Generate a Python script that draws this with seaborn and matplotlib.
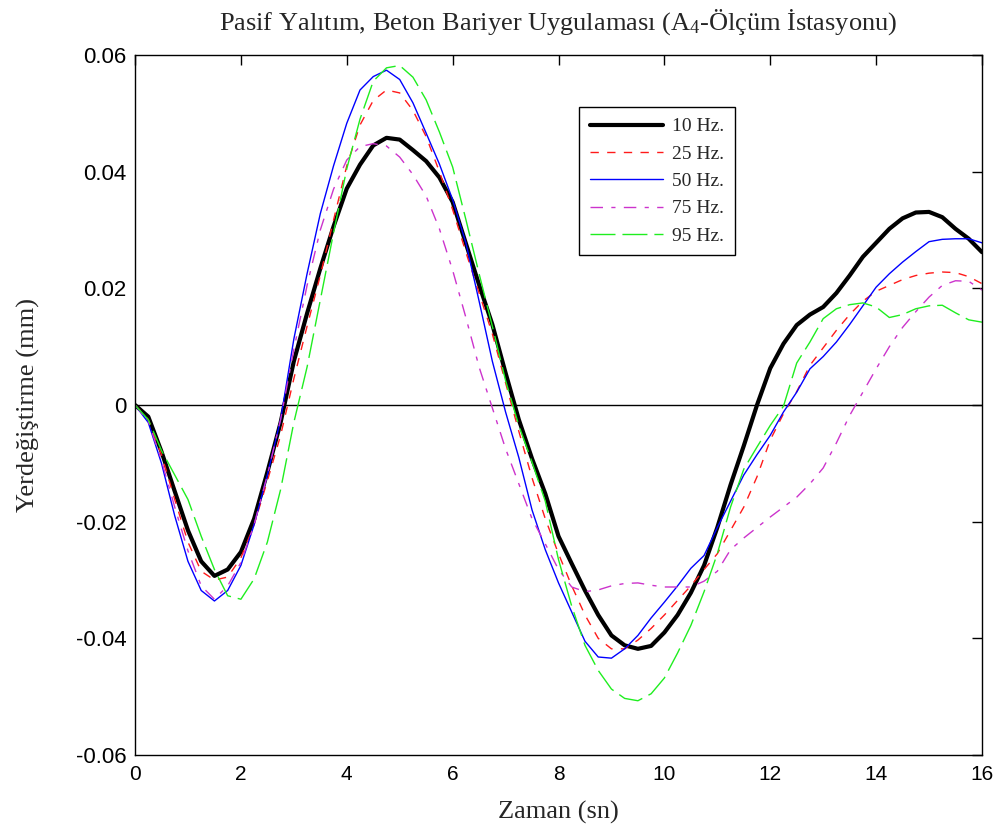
import numpy as np
import pandas as pd
import matplotlib
matplotlib.use("Agg")
import matplotlib.pyplot as plt
import seaborn as sns

# ---- data ----
t = np.arange(0, 16.01, 0.25)

hz10 = [0, -0.002, -0.008, -0.0148, -0.0215, -0.0268, -0.0293, -0.0282, -0.0252, -0.0195,
        -0.0115, -0.003, 0.0075, 0.0157, 0.0234, 0.0306, 0.0371, 0.0412, 0.0445, 0.0458,
        0.0455, 0.0437, 0.0418, 0.039, 0.0348, 0.0277, 0.0206, 0.0138, 0.0055, -0.0025,
        -0.0092, -0.0152, -0.0225, -0.0272, -0.0318, -0.036, -0.0395, -0.0412, -0.0418, -0.0413,
        -0.039, -0.036, -0.0322, -0.0275, -0.021, -0.0137, -0.007, 0.0, 0.0063, 0.0105,
        0.0137, 0.0155, 0.0168, 0.0192, 0.0222, 0.0254, 0.0278, 0.0302, 0.032, 0.033,
        0.0331, 0.0322, 0.0302, 0.0285, 0.0262]

hz25 = [0, -0.0025, -0.0085, -0.0162, -0.0235, -0.0285, -0.0300, -0.0295, -0.0262, -0.0205,
        -0.013, -0.0052, 0.0045, 0.0135, 0.0222, 0.0317, 0.041, 0.048, 0.0522, 0.054,
        0.0535, 0.0505, 0.046, 0.040, 0.0335, 0.0262, 0.0192, 0.0122, 0.0038, -0.0045,
        -0.0125, -0.0195, -0.0255, -0.031, -0.036, -0.040, -0.0418, -0.0418, -0.0403, -0.0383,
        -0.036, -0.0335, -0.031, -0.0282, -0.0255, -0.0215, -0.0175, -0.0123, -0.006, -0.0015,
        0.0023, 0.0068, 0.0098, 0.0128, 0.0155, 0.0178, 0.0195, 0.0205, 0.0215, 0.0222,
        0.0226, 0.0228, 0.0227, 0.022, 0.0208]

hz50 = [0, -0.003, -0.010, -0.019, -0.0268, -0.0318, -0.0336, -0.0318, -0.0275, -0.0205,
        -0.012, -0.0025, 0.0113, 0.0225, 0.0328, 0.041, 0.0483, 0.054, 0.0563, 0.0574,
        0.0558, 0.0518, 0.0466, 0.0413, 0.0352, 0.0278, 0.0178, 0.0075, -0.0012, -0.009,
        -0.018, -0.0248, -0.0305, -0.0355, -0.0405, -0.0432, -0.0434, -0.0418, -0.0395, -0.0365,
        -0.0338, -0.031, -0.028, -0.0258, -0.021, -0.0165, -0.012, -0.0085, -0.0052, -0.0012,
        0.0022, 0.0062, 0.0083, 0.0108, 0.0138, 0.017, 0.0202, 0.0225, 0.0245, 0.0263,
        0.028, 0.0284, 0.0285, 0.0285, 0.0278]

hz75 = [0, -0.0028, -0.0095, -0.0175, -0.025, -0.031, -0.0333, -0.031, -0.027, -0.0205,
        -0.012, -0.0025, 0.0095, 0.0205, 0.030, 0.037, 0.042, 0.0443, 0.0448, 0.0444,
        0.0425, 0.0395, 0.0358, 0.0302, 0.0231, 0.015, 0.0065, -0.0005, -0.0075, -0.0135,
        -0.0195, -0.0238, -0.0282, -0.0312, -0.0320, -0.0317, -0.031, -0.0306, -0.0305, -0.0309,
        -0.0312, -0.0312, -0.0312, -0.0302, -0.0285, -0.0248, -0.0228, -0.021, -0.0192, -0.0175,
        -0.0158, -0.0135, -0.0108, -0.0065, -0.0018, 0.0022, 0.0062, 0.010, 0.0133, 0.016,
        0.0185, 0.0205, 0.0213, 0.0212, 0.0197]

hz95 = [0, -0.0025, -0.0078, -0.012, -0.0162, -0.0225, -0.0282, -0.0327, -0.0333, -0.0298,
        -0.0235, -0.0145, -0.003, 0.0065, 0.018, 0.0295, 0.0405, 0.049, 0.0555, 0.0578,
        0.0582, 0.0562, 0.0523, 0.0468, 0.0408, 0.0318, 0.0225, 0.0135, 0.0042, -0.0035,
        -0.0098, -0.0165, -0.0265, -0.0345, -0.0412, -0.0455, -0.0487, -0.0503, -0.0507, -0.0495,
        -0.0468, -0.0425, -0.0378, -0.032, -0.0255, -0.0175, -0.011, -0.0072, -0.0035, -0.0002,
        0.0072, 0.0108, 0.0148, 0.0165, 0.0172, 0.0175, 0.0168, 0.015, 0.0155, 0.0165,
        0.017, 0.0171, 0.0158, 0.0146, 0.0142]

labels = ["10 Hz.", "25 Hz.", "50 Hz.", "75 Hz.", "95 Hz."]
series = [hz10, hz25, hz50, hz75, hz95]

xticks = [0, 2, 4, 6, 8, 10, 12, 14, 16]
yticks = [-0.06, -0.04, -0.02, 0, 0.02, 0.04, 0.06]
ytick_labels = ["-0.06", "-0.04", "-0.02", "0", "0.02", "0.04", "0.06"]

title = "Pasif Yalıtım, Beton Bariyer Uygulaması (A$_4$-Ölçüm İstasyonu)"
xlabel = "Zaman (sn)"
ylabel = "Yerdeğiştirme (mm)"

# ---- style ----
sns.set_style("white")
plt.rcParams["font.family"] = ["Liberation Sans", "DejaVu Sans"]
plt.rcParams["mathtext.fontset"] = "custom"
plt.rcParams["mathtext.rm"] = "Liberation Serif"
plt.rcParams["mathtext.it"] = "Liberation Serif"

styles = [
    dict(color="#000000", linewidth=3.0, linestyle="-"),
    dict(color="#FF1A1A", linewidth=1.0, linestyle=(0, (6, 6))),
    dict(color="#0000FF", linewidth=1.0, linestyle="-"),
    dict(color="#CC33CC", linewidth=1.0, linestyle=(0, (9, 6, 3, 6))),
    dict(color="#1FEE1F", linewidth=1.0, linestyle=(0, (18, 5))),
]

fig = plt.figure(figsize=(10.01, 8.36), dpi=100)
ax = fig.add_axes([0.1349, 0.0969, 0.8461, 0.8373])

ax.axhline(0, color="black", linewidth=1.0, zorder=1)

for lab, vals, st in zip(labels, series, styles):
    df = pd.DataFrame({"t": t, "y": vals})
    sns.lineplot(data=df, x="t", y="y", ax=ax, label=lab, zorder=2, **st)

ax.set_xlim(0, 16)
ax.set_ylim(-0.06, 0.06)
ax.set_xticks(xticks)
ax.set_xticklabels([str(v) for v in xticks], fontsize=15,
                   family=["Liberation Sans Narrow", "Liberation Sans"])
ax.set_yticks(yticks)
ax.set_yticklabels(ytick_labels, fontsize=16)
ax.tick_params(direction="in", length=7, width=1, top=True, right=True,
               labeltop=False, labelright=False, colors="black")
ax.tick_params(axis="x", pad=7)
ax.tick_params(axis="y", pad=6)
for sp in ax.spines.values():
    sp.set_visible(True)
    sp.set_color("black")
    sp.set_linewidth(1.0)

ax.set_title(title, fontsize=19, family=["Liberation Serif"], pad=18)
ax.set_xlabel(xlabel, fontsize=19, family=["Liberation Serif"])
ax.set_ylabel(ylabel, fontsize=19, family=["Liberation Serif"])
ax.xaxis.set_label_coords(0.5, -0.066)
ax.yaxis.set_label_coords(-0.112, 0.5)

leg = ax.legend(loc="upper left", bbox_to_anchor=(0.5242, 0.9257), frameon=True,
                fancybox=False, edgecolor="black", handlelength=3.75,
                prop={"family": "Liberation Serif", "size": 14},
                borderpad=0.55, labelspacing=0.5, handletextpad=0.5,
                borderaxespad=0)
leg.get_frame().set_linewidth(1.0)
leg.get_frame().set_alpha(1)

fig.savefig("out.png", dpi=100)
